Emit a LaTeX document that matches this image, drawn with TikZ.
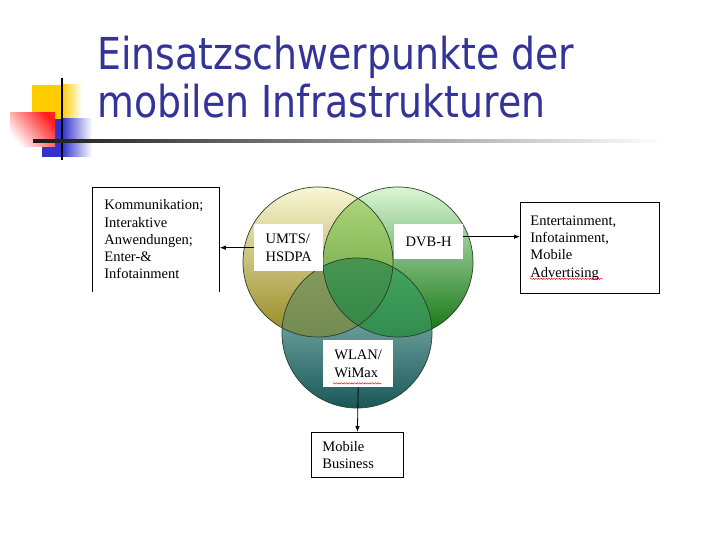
\documentclass[tikz,border=0pt]{standalone}
\usepackage{fontspec}
\setmainfont{Liberation Serif}
\newfontfamily\titlefont[FakeStretch=0.86]{DejaVu Sans}
\usetikzlibrary{arrows.meta,calc,decorations.pathmorphing}
\definecolor{titleblue}{HTML}{333399}
\definecolor{decoyellow}{HTML}{FFCC00}
\definecolor{decoblue}{HTML}{3333CC}
\definecolor{decored}{HTML}{FF2020}
% single circles
\definecolor{ytop}{RGB}{250,247,212}
\definecolor{ymid}{RGB}{212,202,128}
\definecolor{ybot}{RGB}{150,136,30}
\definecolor{gtop}{RGB}{218,246,212}
\definecolor{gmid}{RGB}{115,200,110}
\definecolor{gbot}{RGB}{15,115,15}
\definecolor{ttop}{RGB}{165,210,205}
\definecolor{tmid}{RGB}{118,176,174}
\definecolor{tbot}{RGB}{25,88,88}
% overlaps
\definecolor{ygtop}{RGB}{178,218,128}
\definecolor{ygmid}{RGB}{128,188,78}
\definecolor{ygbot}{RGB}{90,150,50}
\definecolor{yttop}{RGB}{135,155,95}
\definecolor{ytmid}{RGB}{118,142,82}
\definecolor{ytbot}{RGB}{98,124,70}
\definecolor{gttop}{RGB}{70,165,95}
\definecolor{gtmid}{RGB}{45,148,82}
\definecolor{gtbot}{RGB}{30,120,65}
\definecolor{alltop}{RGB}{70,150,80}
\definecolor{allmid}{RGB}{45,135,70}
\definecolor{allbot}{RGB}{35,120,62}
\definecolor{vennline}{RGB}{45,60,40}
\begin{document}
\begin{tikzpicture}[x=1pt,y=-1pt,
  venn/.style={circle, minimum size=150pt, inner sep=0pt},
  lbl/.style={fill=white, inner sep=0pt, align=left, font=\fontsize{14.5}{17.3}\selectfont},
  bigbox/.style={inner ysep=0pt, align=left, line width=0.8pt, font=\fontsize{14.5}{17.3}\selectfont},
  conn/.style={line width=0.8pt, -{Latex[length=6pt,width=4.5pt]}},
  squiggle/.style={red!85!black, line width=0.4pt, decorate, decoration={snake, amplitude=0.7pt, segment length=2.6pt}},
  ttl/.style={anchor=base west, inner sep=0pt, text=titleblue, font=\titlefont\fontsize{44}{48}\selectfont}]
\useasboundingbox (0,0) rectangle (720,540);
\fill[white] (0,0) rectangle (720,540);

% slide decoration
\fill[decoyellow] (32,85) rectangle (62,120);
\shade[left color=decoyellow, right color=white] (62,85) rectangle (82,120);
\fill[decoblue] (42,119) rectangle (62,157);
\shade[left color=decoblue, right color=white] (62,119) rectangle (92,157);
\shade[top color=decored, bottom color=white, shading angle=-50] (10,113) rectangle (55,147);
\draw[line width=2pt] (62,78) -- (62,160);
\shade[left color=black!90, middle color=black!50, right color=white] (33,140) rectangle (665,142.4);

% title
\node[ttl] (t1) at (97,70) {Einsatzschwerpunkte der};
\node[ttl] (t2) at (97,118) {mobilen Infrastrukturen};

% Venn circles
\node[venn, top color=ytop, middle color=ymid, bottom color=ybot] (yc) at (318,262) {};
\node[venn, top color=gtop, middle color=gmid, bottom color=gbot] (gc) at (398,262) {};
\node[venn, top color=ttop, middle color=tmid, bottom color=tbot] (tc) at (357,333) {};
\begin{scope}
  \clip (yc.center) circle (75);
  \shade[top color=ygtop, middle color=ygmid, bottom color=ygbot] (gc.center) circle (75);
  \shade[top color=yttop, middle color=ytmid, bottom color=ytbot] (tc.center) circle (75);
\end{scope}
\begin{scope}
  \clip (gc.center) circle (75);
  \shade[top color=gttop, middle color=gtmid, bottom color=gtbot] (tc.center) circle (75);
  \clip (yc.center) circle (75);
  \shade[top color=alltop, middle color=allmid, bottom color=allbot] (tc.center) circle (75);
\end{scope}
\draw[vennline, line width=0.7pt] (yc.center) circle (75);
\draw[vennline, line width=0.7pt] (gc.center) circle (75);
\draw[vennline, line width=0.7pt] (tc.center) circle (75);

% labels
\node[lbl, minimum width=69pt, minimum height=47pt, anchor=north west] (umts) at (254,224) {UMTS/\\HSDPA};
\node[lbl, minimum width=69pt, minimum height=35pt, anchor=north west] (dvb) at (394,224) {DVB-H};
\node[lbl, minimum width=70pt, minimum height=47pt, anchor=north west] (wl) at (323,340) {WLAN/\\WiMax};

% boxes
\node[bigbox, text width=103pt, inner xsep=12pt, minimum height=104pt, anchor=north west] (lbox) at (92,187)
  {Kommunikation;\\Interaktive\\Anwendungen;\\Enter-\&\\Infotainment};
\draw[line width=0.8pt] (lbox.south west) -- (lbox.north west) -- (lbox.north east) -- (lbox.south east);
\node[bigbox, draw, text width=119pt, inner xsep=10pt, minimum height=91pt, anchor=north west] (rbox) at (520,202)
  {Entertainment,\\Infotainment,\\Mobile\\Advertising};
\node[bigbox, draw, text width=70pt, inner xsep=11pt, minimum height=45pt, anchor=north west] (mb) at (311,432)
  {Mobile\\Business};

% spell-check underlines
\draw[squiggle] ($(wl.south west)+(10,-4)$) -- ($(wl.south west)+(58,-4)$);
\draw[squiggle] ($(rbox.south west)+(10,-15)$) -- ($(rbox.south west)+(83,-15)$);

% connectors
\draw[conn] (umts.west) -- (umts.west -| lbox.east);
\draw[conn] ([yshift=5pt]dvb.east) -- ([yshift=5pt]dvb.east -| rbox.west);
\draw[conn] (wl.south) -- (mb.north);
\end{tikzpicture}
\end{document}
